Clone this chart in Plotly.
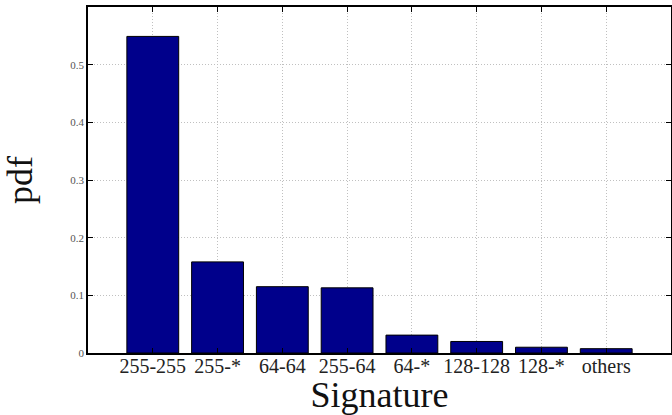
import plotly.graph_objects as go

categories = ["255-255", "255-*", "64-64", "255-64", "64-*", "128-128", "128-*", "others"]
pdf_values = [0.549, 0.158, 0.115, 0.113, 0.031, 0.020, 0.010, 0.0075]
y_ticks = [0, 0.1, 0.2, 0.3, 0.4, 0.5]
y_tick_labels = ["0", "0.1", "0.2", "0.3", "0.4", "0.5"]

serif = "Liberation Serif, DejaVu Serif, serif"

fig = go.Figure()
fig.add_trace(go.Bar(
    x=list(range(len(categories))),
    y=pdf_values,
    width=0.8,
    marker=dict(color="#00008B", line=dict(color="black", width=1)),
))

fig.update_layout(
    width=672, height=415,
    margin=dict(l=88, r=1, t=7, b=62),
    paper_bgcolor="white", plot_bgcolor="white",
    showlegend=False,
    font=dict(family=serif, color="black"),
    xaxis=dict(
        range=[-1, 8],
        automargin=False,
        tickmode="array",
        tickvals=list(range(len(categories))),
        ticktext=categories,
        tickfont=dict(size=20, family=serif, color="#222"),
        ticklabelstandoff=-6,
        showgrid=True, gridcolor="#c0c0c0", griddash="1px,2px", gridwidth=1,
        showline=True, linecolor="black", linewidth=1.5, mirror="ticks",
        ticks="inside", ticklen=5, tickcolor="black",
        title=dict(text="Signature", font=dict(size=36, family=serif, color="#111"), standoff=2),
        zeroline=False,
    ),
    yaxis=dict(
        range=[0, 0.6],
        automargin=False,
        tickmode="array",
        tickvals=y_ticks,
        ticktext=y_tick_labels,
        tickfont=dict(size=11, family=serif, color="#555"),
        showgrid=True, gridcolor="#c0c0c0", griddash="1px,2px", gridwidth=1,
        showline=True, linecolor="black", linewidth=1.5, mirror="ticks",
        ticks="inside", ticklen=5, tickcolor="black",
        title=dict(text="pdf", font=dict(size=36, family=serif, color="#111"), standoff=30),
        zeroline=False,
    ),
    bargap=0.2,
)

fig.write_html("out.html", config={"displayModeBar": False},
               post_script="document.body.style.margin='0';")
